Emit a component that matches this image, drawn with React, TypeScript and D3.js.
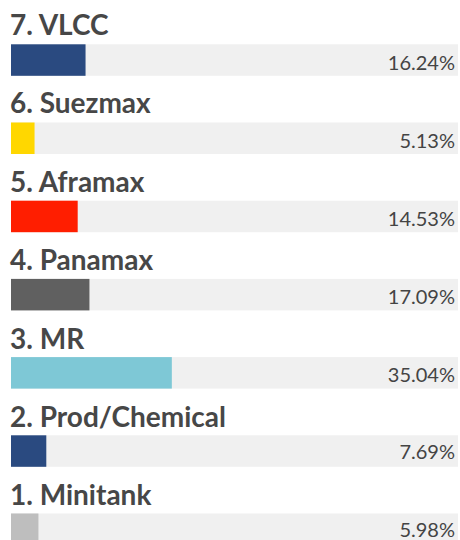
import React from "react";
import * as d3 from "d3";

const categories = ["7. VLCC", "6. Suezmax", "5. Aframax", "4. Panamax", "3. MR", "2. Prod/Chemical", "1. Minitank"];
const values = [16.24, 5.13, 14.53, 17.09, 35.04, 7.69, 5.98];
const colors = ["#2a4a80", "#ffd700", "#ff1e00", "#606060", "#7ec8d6", "#2a4a80", "#bebebe"];

const W = 460;
const H = 540;
const left = 11;
const trackRight = 458;
const barH = 31.5;

export default function App() {
  const n = categories.length;
  const x = d3.scaleLinear().domain([0, 100]).range([0, 459]);
  const yBar = d3.scaleLinear().domain([0, n - 1]).range([44.3, 44.3 + 78.2 * (n - 1)]);
  const yTitle = d3.scaleLinear().domain([0, n - 1]).range([35, 35 + 78.4 * (n - 1)]);
  const yValue = d3.scaleLinear().domain([0, n - 1]).range([70.4, 70.4 + 77.8 * (n - 1)]);
  return (
    <svg
      width={W}
      height={H}
      style={{ position: "absolute", left: 0, top: 0, display: "block" }}
      fontFamily="Lato, sans-serif"
    >
      <rect x={0} y={0} width={W} height={H} fill="#ffffff" />
      {categories.map((c, i) => {
        const top = yBar(i);
        return (
          <g key={c}>
            <rect x={left} y={top} width={trackRight - left} height={barH} fill="#f0f0f0" />
            <rect x={left} y={top} width={x(values[i])} height={barH} fill={colors[i]} />
            <text x={left - 1} y={yTitle(i)} fontSize={28} fontWeight={700} fill="#474747">
              {c}
            </text>
            <text x={455} y={yValue(i)} fontSize={20} textAnchor="end" fill="#444444">
              {values[i].toFixed(2)}%
            </text>
          </g>
        );
      })}
    </svg>
  );
}
